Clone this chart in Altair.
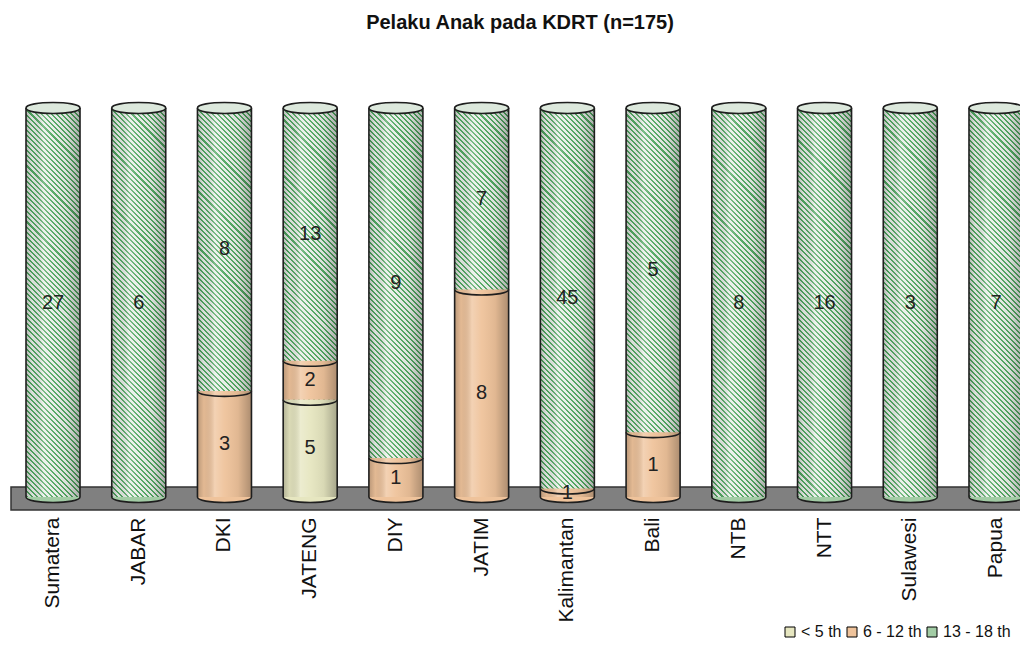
import math
import altair as alt
import pandas as pd

# ---------------- data ----------------
regions = ["Sumatera", "JABAR", "DKI", "JATENG", "DIY", "JATIM",
           "Kalimantan", "Bali", "NTB", "NTT", "Sulawesi", "Papua"]
age_groups = ["< 5 th", "6 - 12 th", "13 - 18 th"]
under5 = [0, 0, 0, 5, 0, 0, 0, 0, 0, 0, 0, 0]
age6_12 = [0, 0, 3, 2, 1, 8, 1, 1, 0, 0, 0, 0]
age13_18 = [27, 6, 8, 13, 9, 7, 45, 5, 8, 16, 3, 7]
title_text = "Pelaku Anak pada KDRT (n=175)"

series = [under5, age6_12, age13_18]
rows = []
for i, r in enumerate(regions):
    for k, g in enumerate(age_groups):
        rows.append({"region": r, "group": g, "order": k, "value": series[k][i]})
df = pd.DataFrame(rows)
df = df[df["value"] > 0].reset_index(drop=True)

# ---------------- layout / style ----------------
FONT = "Liberation Sans"
PLOT_W, PLOT_H = 1010, 389
PAD = {"left": 2, "top": 100, "right": 0, "bottom": 145}
P_IN, P_OUT = 0.37, 0.21
X_RANGE = [-2, 1031]
step = (X_RANGE[1] - X_RANGE[0]) / (len(regions) - P_IN + 2 * P_OUT)
BW = step * (1 - P_IN)
SYM = BW * BW  # custom symbol width = sqrt(size)

colors = ["#e6e6c0", "#efc39b", "#a2cca5"]
top_group = age_groups[-1]

# diagonal stripe gradient for the 13-18 segments (drawn as full bars underneath)
W, H = BW, PLOT_H
s = (W + H) / (W * W + H * H)
gx2, gy2 = s * W, 1 - s * H
n_str = int(round((W + H) / math.sqrt(2) / 3.6))
stops = []
for i in range(n_str):
    a, b, c = i / n_str, (i + 0.4) / n_str, (i + 1) / n_str
    stops += [alt.GradientStop(color="#52a862", offset=round(a, 6)),
              alt.GradientStop(color="#52a862", offset=round(b, 6)),
              alt.GradientStop(color="#e8eee8", offset=round(b, 6)),
              alt.GradientStop(color="#e8eee8", offset=round(c, 6))]
stripe_fill = alt.LinearGradient(gradient="linear", stops=stops,
                                 x1=0, y1=1, x2=gx2, y2=gy2)

shade_fill = alt.LinearGradient(
    gradient="linear", x1=0, y1=0, x2=1, y2=0,
    stops=[alt.GradientStop(color="rgba(0,0,0,0.22)", offset=0),
           alt.GradientStop(color="rgba(0,0,0,0.05)", offset=0.12),
           alt.GradientStop(color="rgba(255,255,255,0.25)", offset=0.32),
           alt.GradientStop(color="rgba(255,255,255,0.05)", offset=0.5),
           alt.GradientStop(color="rgba(0,0,0,0.06)", offset=0.75),
           alt.GradientStop(color="rgba(0,0,0,0.28)", offset=1)])

CAP = "M-1,0 C-1,-0.27 1,-0.27 1,0 C1,0.27 -1,0.27 -1,0 Z"
ARC = "M-1,0 C-1,0.27 1,0.27 1,0"
HALF = "M-1,0 C-1,0.27 1,0.27 1,0 Z"

xenc = alt.X("region:N", sort=regions,
             scale=alt.Scale(domain=regions, range=X_RANGE,
                             paddingInner=P_IN, paddingOuter=P_OUT),
             axis=alt.Axis(title=None, labelAngle=-90, labelFont=FONT,
                           labelFontSize=21, labelColor="#111",
                           labelPadding=20, tickSize=0, ticks=False,
                           domain=False, grid=False,
                           labelAlign="right", labelBaseline="middle"))
yscale = alt.Scale(domain=[0, 1], nice=False, zero=False)
cscale = alt.Scale(domain=age_groups, range=colors)

stacked = alt.Chart(df).transform_stack(
    stack="value", groupby=["region"],
    sort=[alt.SortField("order", order="ascending")],
    offset="normalize", as_=["y0", "y1"])

full = alt.Chart(df).transform_aggregate(
    n="count()", groupby=["region"]).transform_calculate(b0="0", b1="1")

# floor (3-D chart floor, a decorative slab behind the cylinders)
floor = alt.Chart(pd.DataFrame({"floor": [1]})).mark_rect(
    fill="#808080", stroke="#333333", strokeWidth=1.5).encode(
    x=alt.value(1), x2=alt.value(1016),
    y=alt.value(379), y2=alt.value(402))

stripe_bars = full.mark_bar(fill=stripe_fill).encode(
    x=xenc, y=alt.Y("b0:Q", scale=yscale, axis=None), y2="b1:Q")

segments = stacked.transform_filter(alt.datum.group != top_group).mark_bar().encode(
    x=xenc, y=alt.Y("y0:Q", scale=yscale, axis=None), y2="y1:Q",
    color=alt.Color("group:N", scale=cscale,
                    legend=alt.Legend(title=None, orient="none", legendX=772,
                                      legendY=516, direction="horizontal",
                                      symbolType="square", symbolSize=100,
                                      symbolStrokeColor="#000",
                                      symbolStrokeWidth=1, labelFont=FONT,
                                      labelFontSize=16, labelColor="#111",
                                      labelOffset=3, columnPadding=2,
                                      padding=0)))

shade = full.mark_bar(fill=shade_fill).encode(
    x=xenc, y=alt.Y("b0:Q", scale=yscale, axis=None), y2="b1:Q")

bottom_fill = stacked.transform_filter(alt.datum.y0 == 0).mark_point(
    shape=HALF, filled=True, size=SYM, opacity=1, strokeWidth=0).encode(
    x=xenc, y=alt.Y("y0:Q", scale=yscale, axis=None),
    color=alt.Color("group:N", scale=cscale, legend=None))

bottom_arc = stacked.transform_filter(alt.datum.y0 == 0).mark_point(
    shape=ARC, filled=False, size=SYM, opacity=1, strokeWidth=1.6,
    color="#1e1e1e").encode(
    x=xenc, y=alt.Y("y0:Q", scale=yscale, axis=None))

mid_arcs = stacked.transform_filter(alt.datum.group != top_group).mark_point(
    shape=ARC, filled=False, size=SYM, opacity=1, strokeWidth=1.6,
    color="#1e1e1e").encode(
    x=xenc, y=alt.Y("y1:Q", scale=yscale, axis=None))

left_edge = full.mark_rule(xOffset=-BW / 2, strokeWidth=1.6, color="#1e1e1e").encode(
    x=xenc, y=alt.Y("b0:Q", scale=yscale, axis=None), y2="b1:Q")
right_edge = full.mark_rule(xOffset=BW / 2, strokeWidth=1.6, color="#1e1e1e").encode(
    x=xenc, y=alt.Y("b0:Q", scale=yscale, axis=None), y2="b1:Q")

caps = full.mark_point(shape=CAP, filled=True, size=SYM, opacity=1,
                       fill="#dce8dc", stroke="#1e1e1e", strokeWidth=1.6).encode(
    x=xenc, y=alt.Y("b1:Q", scale=yscale, axis=None))

labels = stacked.transform_calculate(mid="(datum.y0 + datum.y1) / 2").mark_text(
    font=FONT, fontSize=20, color="#222222", baseline="middle").encode(
    x=xenc, y=alt.Y("mid:Q", scale=yscale, axis=None), text="value:Q")

chart = alt.layer(
    floor, stripe_bars, segments, shade, bottom_fill, bottom_arc, mid_arcs,
    left_edge, right_edge, caps, labels
).properties(
    width=PLOT_W, height=PLOT_H, padding=PAD,
    autosize=alt.AutoSizeParams(type="none"),
    title=alt.TitleParams(title_text, font=FONT, fontSize=20, fontWeight="bold",
                          color="#111", anchor="middle", offset=66, dx=5),
    background="white"
).configure_view(stroke=None)

chart.save("out.html", embed_options={"renderer": "svg", "actions": False})
